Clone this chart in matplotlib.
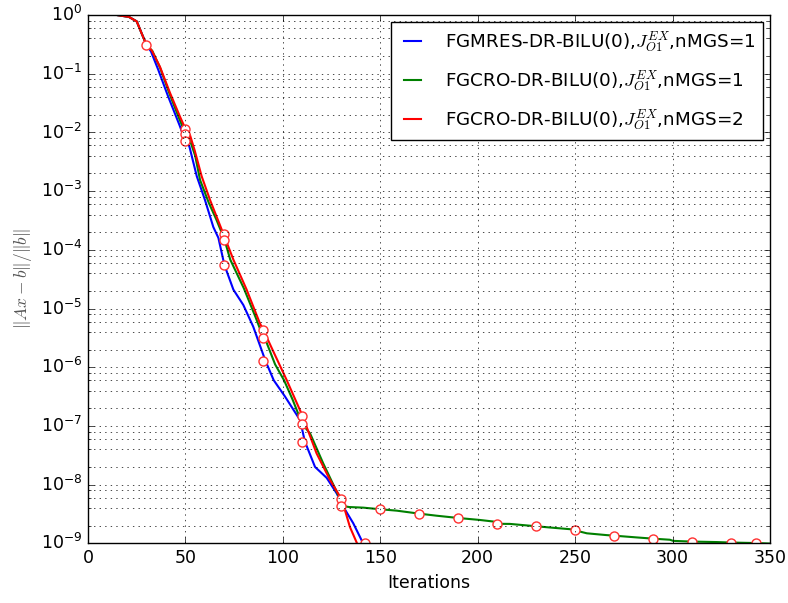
import numpy as np
import matplotlib
matplotlib.use('Agg')
from matplotlib import pyplot as plt
from matplotlib.ticker import LogLocator

# residual histories, iterations vs ||Ax-b||/||b||
it_gmres = [0, 10, 15, 21, 25, 27.5, 30, 32.3, 36, 41, 47, 50, 52, 55.8, 60, 64.3, 66.9, 70,
            74.6, 79.7, 84.8, 91, 95.3, 101, 108.8, 111.3, 116.5, 122.5, 127.6, 131, 136.1, 141.5]
res_gmres = [1.3, 1.1, 1.0, 0.93, 0.78, 0.49, 0.31, 0.24, 0.118, 0.042, 0.0132, 0.0071, 0.0058,
             1.8e-3, 7.1e-4, 2.45e-4, 1.6e-4, 5.5e-5, 2.1e-5, 1.15e-5, 4.9e-6, 1.3e-6, 6.0e-7,
             3.2e-7, 1.26e-7, 5.4e-8, 2.0e-8, 1.3e-8, 7.1e-9, 4.2e-9, 2.2e-9, 9.5e-10]

it_gcro1 = [0, 10, 15, 21, 25, 27.5, 30, 33, 37, 42, 47, 50, 52, 55, 57.5, 62, 66, 70, 73, 80,
            86, 90, 91.7, 96, 100.6, 105, 110, 114, 120.7, 128, 131, 134, 141.3, 150, 158.4,
            170, 179, 190, 201, 208, 210, 216.5, 230, 237, 247.3, 250, 256, 266, 270, 281.5,
            290, 298.6, 300.3, 310, 322.6, 330, 343, 350]
res_gcro1 = [1.3, 1.1, 1.0, 0.93, 0.78, 0.49, 0.31, 0.245, 0.126, 0.044, 0.0166, 0.0095, 0.0079,
             4.0e-3, 1.55e-3, 6.3e-4, 3.2e-4, 1.5e-4, 6.8e-5, 2.2e-5, 7.1e-6, 3.2e-6, 2.6e-6,
             1.12e-6, 6.0e-7, 2.8e-7, 1.07e-7, 7.4e-8, 2.3e-8, 7.1e-9, 4.3e-9, 4.15e-9, 4.05e-9,
             3.8e-9, 3.6e-9, 3.2e-9, 2.95e-9, 2.7e-9, 2.5e-9, 2.35e-9, 2.15e-9, 2.14e-9, 1.95e-9,
             1.86e-9, 1.74e-9, 1.66e-9, 1.48e-9, 1.38e-9, 1.35e-9, 1.26e-9, 1.2e-9, 1.15e-9,
             1.1e-9, 1.07e-9, 1.05e-9, 1.03e-9, 1.01e-9, 0.99e-9]

it_gcro2 = [0, 10, 15, 21, 25, 27.5, 30, 32.7, 36.9, 42.1, 47.2, 50, 52.3, 54.7, 58.3, 62.6,
            69.5, 74.6, 81.4, 88.2, 90, 96, 102, 110, 117.3, 124.2, 130.2, 134.4, 138.7]
res_gcro2 = [1.3, 1.1, 1.0, 0.93, 0.78, 0.49, 0.31, 0.25, 0.132, 0.047, 0.0186, 0.0115, 0.0091,
             5.0e-3, 1.8e-3, 7.1e-4, 1.86e-4, 6.8e-5, 2.1e-5, 5.6e-6, 4.3e-6, 1.6e-6, 6.0e-7,
             1.5e-7, 3.4e-8, 1.2e-8, 5.6e-9, 1.9e-9, 8.9e-10]

# restart markers
it_mark = [30, 50, 50, 50, 70, 70, 70, 90, 90, 90, 110, 110, 110, 130, 130, 142,
           150, 170, 190, 210, 230, 250, 270, 290, 310, 330, 343]
res_mark = [0.31, 0.0115, 0.0095, 0.0071, 1.86e-4, 1.5e-4, 5.6e-5, 4.3e-6, 3.2e-6, 1.3e-6,
            1.5e-7, 1.07e-7, 5.4e-8, 5.6e-9, 4.3e-9, 1.0e-9,
            3.8e-9, 3.2e-9, 2.7e-9, 2.15e-9, 1.95e-9, 1.66e-9, 1.35e-9, 1.2e-9, 1.07e-9,
            1.03e-9, 1.0e-9]

labels = ['FGMRES-DR-BILU(0),$J_{O1}^{EX}$,nMGS=1',
          'FGCRO-DR-BILU(0),$J_{O1}^{EX}$,nMGS=1',
          'FGCRO-DR-BILU(0),$J_{O1}^{EX}$,nMGS=2']

plt.style.use('classic')
plt.rcParams['mathtext.fontset'] = 'cm'

fig = plt.figure(figsize=(7.88, 6.03), dpi=100, facecolor='white')
ax = fig.add_axes([0.1117, 0.099, 0.8655, 0.876])

ax.semilogy(it_gmres, res_gmres, 'b-', lw=1.5, label=labels[0])
ax.semilogy(it_gcro1, res_gcro1, 'g-', lw=1.5, label=labels[1])
ax.semilogy(it_gcro2, res_gcro2, 'r-', lw=1.5, label=labels[2])
ax.semilogy(it_mark, res_mark, 'o', mfc='white', mec='#ff3030', ms=6.5, mew=1.0)

ax.set_xlim(0, 350)
ax.set_ylim(1e-9, 1e0)
ax.yaxis.set_minor_locator(LogLocator(base=10, subs=[2, 4, 6, 8], numticks=30))
ax.set_xlabel('Iterations', fontsize=12.5)
ax.set_ylabel(r'$\|Ax-b\|/\|b\|$', fontsize=12.5, color='#555555')
ax.grid(True, which='major', color='k', linestyle=':', lw=0.5)
ax.grid(True, which='minor', axis='y', color='k', linestyle=':', lw=0.5)
ax.tick_params(labelsize=12.5)

ax.legend(loc='upper right', fontsize=13.2, handlelength=1.55, handletextpad=1.0,
          labelspacing=0.75, borderaxespad=0.4)

fig.savefig('out.png', dpi=100, facecolor='white')
